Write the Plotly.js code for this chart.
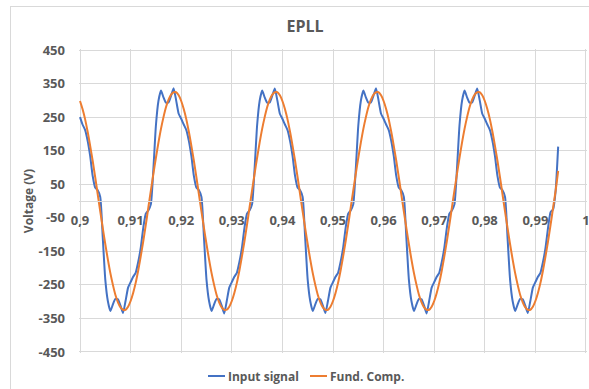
<!DOCTYPE html>
<html>
<head>
<meta charset="utf-8">
<script src="https://cdn.plot.ly/plotly-3.0.1.min.js"></script>
<style>
  html, body { margin: 0; padding: 0; background: #ffffff; width: 589px; height: 389px; overflow: hidden; }
  #frame { position: absolute; left: 10px; top: 6px; width: 590px; height: 390px;
           border: 1px solid #d9d9d9; box-sizing: border-box; background: #ffffff; }
  #chart { width: 588px; height: 388px; }
</style>
</head>
<body>
<div id="frame"><div id="chart"></div></div>
<script>
// Sampling of both signals: first sample time and step (seconds)
const T_START = 0.9;
const T_STEP = 0.0005;

// Measured input voltage (V), one sample every 0.5 ms
const INPUT_SIGNAL = [
  250, 228, 212, 180, 135, 75, 40, 32, 12, -110,
  -235, -298, -328, -308, -292, -293, -312, -334, -298, -258,
  -242, -226, -214, -182, -140, -80, -38, -28, -10, 95,
  225, 298, 329, 309, 293, 294, 314, 336, 300, 260,

  245, 228, 212, 180, 135, 75, 40, 32, 12, -110,
  -235, -298, -328, -308, -292, -293, -312, -335, -298, -258,
  -242, -226, -214, -182, -140, -80, -38, -28, -10, 95,
  225, 298, 329, 309, 293, 294, 314, 335, 300, 260,

  245, 228, 212, 180, 135, 75, 40, 32, 12, -110,
  -235, -298, -328, -308, -292, -293, -312, -334, -298, -258,
  -242, -226, -214, -182, -140, -80, -38, -28, -10, 95,
  225, 298, 329, 309, 293, 294, 314, 336, 300, 260,

  245, 228, 212, 180, 135, 75, 40, 32, 12, -110,
  -235, -298, -328, -308, -292, -293, -312, -335, -298, -258,
  -242, -226, -214, -182, -140, -80, -38, -28, -10, 95,
  225, 298, 329, 309, 293, 294, 314, 335, 300, 260,

  245, 228, 212, 180, 135, 75, 40, 32, 12, -110,
  -235, -298, -328, -308, -292, -293, -312, -334, -298, -258,
  -242, -226, -214, -182, -140, -80, -33, -25, 30, 162
];

// Fundamental component estimated by the EPLL (V)
const FUND_COMP = [
  298, 274, 244, 207, 165, 120, 71, 20, -31, -81,
  -129, -174, -215, -250, -280, -302, -317, -324, -324, -315,
  -298, -274, -244, -207, -165, -120, -71, -20, 31, 81,
  129, 174, 215, 250, 280, 302, 317, 324, 324, 315,

  298, 274, 244, 207, 165, 120, 71, 20, -31, -81,
  -129, -174, -215, -250, -280, -302, -317, -324, -324, -315,
  -298, -274, -244, -207, -165, -120, -71, -20, 31, 81,
  129, 174, 215, 250, 280, 302, 317, 324, 324, 315,

  298, 274, 244, 207, 165, 120, 71, 20, -31, -81,
  -129, -174, -215, -250, -280, -302, -317, -324, -324, -315,
  -298, -274, -244, -207, -165, -120, -71, -20, 31, 81,
  129, 174, 215, 250, 280, 302, 317, 324, 324, 315,

  298, 274, 244, 207, 165, 120, 71, 20, -31, -81,
  -129, -174, -215, -250, -280, -302, -317, -324, -324, -315,
  -298, -274, -244, -207, -165, -120, -71, -20, 31, 81,
  129, 174, 215, 250, 280, 302, 317, 324, 324, 315,

  298, 274, 244, 207, 165, 120, 71, 20, -31, -81,
  -129, -174, -215, -250, -280, -302, -317, -324, -324, -315,
  -298, -274, -244, -207, -165, -120, -71, -20, 31, 90
];

// Axis ticks
const X_TICKS = [0.9, 0.91, 0.92, 0.93, 0.94, 0.95, 0.96, 0.97, 0.98, 0.99, 1.0];
const X_LABELS = ['0,9', '0,91', '0,92', '0,93', '0,94', '0,95', '0,96', '0,97', '0,98', '0,99', '1'];
const Y_TICKS = [450, 350, 250, 150, 50, -50, -150, -250, -350, -450];
const Y_LABELS = ['450', '350', '250', '150', '50', '-50', '-150', '-250', '-350', '-450'];
const Y_GRID = [450, 350, 250, 150, 50, -150, -250, -350, -450];

const SERIES_NAMES = ['Input signal', 'Fund. Comp.'];
const SERIES_COLORS = ['#4472C4', '#ED7D31'];

const time = INPUT_SIGNAL.map((_, i) => +(T_START + i * T_STEP).toFixed(4));

const FONT = 'Open Sans, Lato, sans-serif';
const TEXT_COLOR = '#595959';
const GRID_COLOR = '#d9d9d9';

const traces = [
  // invisible point on the overlay axis that carries the horizontal grid
  { x: [0.95], y: [0], yaxis: 'y2', mode: 'markers', marker: { opacity: 0 },
    showlegend: false, hoverinfo: 'skip' },
  {
    x: time, y: INPUT_SIGNAL, name: SERIES_NAMES[0], type: 'scatter', mode: 'lines',
    line: { color: SERIES_COLORS[0], width: 2, shape: 'spline', smoothing: 0.5 }
  },
  {
    x: time, y: FUND_COMP, name: SERIES_NAMES[1], type: 'scatter', mode: 'lines',
    line: { color: SERIES_COLORS[1], width: 2, shape: 'spline', smoothing: 0.8 }
  }
];

const tickFont = { family: FONT, size: 13, color: TEXT_COLOR, weight: 'bold' };
const legendFont = { family: FONT, size: 12, color: TEXT_COLOR, weight: 'bold' };

// Legend drawn below the plot: short key line followed by the series name
const LEGEND_Y = -0.0757;
const legendKeys = [
  { x0: 0.2539, x1: 0.2874, tx: 0.2894 },
  { x0: 0.4547, x1: 0.4882, tx: 0.4902 }
];

// Ranges are padded slightly so the outer grid lines stay inside the plot area
const X_RANGE = [0.8998, 1.0002];
const Y_RANGE = [-453, 453];

const layout = {
  width: 588, height: 388,
  margin: { l: 68, r: 12, t: 42, b: 42 },
  paper_bgcolor: '#ffffff', plot_bgcolor: '#ffffff',
  showlegend: false,
  title: {
    text: 'EPLL',
    font: { family: FONT, size: 16, color: TEXT_COLOR, weight: 'bold' },
    xref: 'container', x: 0.5, xanchor: 'center',
    yref: 'container', y: 1 - 19 / 388, yanchor: 'middle'
  },
  xaxis: {
    range: X_RANGE,
    tickvals: X_TICKS, ticktext: X_LABELS,
    tickfont: tickFont,
    ticks: '', ticklabelstandoff: 7,
    ticklabeloverflow: 'allow',
    showgrid: true, gridcolor: GRID_COLOR, gridwidth: 1,
    zeroline: false,
    showline: true, linecolor: GRID_COLOR, linewidth: 1,
    anchor: 'free', position: 0.5
  },
  yaxis: {
    range: Y_RANGE,
    tickvals: Y_TICKS, ticktext: Y_LABELS,
    tickfont: tickFont,
    ticks: '', ticklabelstandoff: 13,
    showgrid: false, zeroline: false, showline: false,
    title: {
      text: 'Voltage (V)',
      font: { family: FONT, size: 12, color: TEXT_COLOR, weight: 'bold' },
      standoff: 2
    }
  },
  yaxis2: {
    overlaying: 'y', side: 'left',
    range: Y_RANGE,
    tickvals: Y_GRID,
    showticklabels: false, ticks: '',
    showgrid: true, gridcolor: GRID_COLOR, gridwidth: 1,
    zeroline: false, showline: false
  },
  shapes: legendKeys.map((k, i) => ({
    type: 'line', xref: 'paper', yref: 'paper',
    x0: k.x0, x1: k.x1, y0: LEGEND_Y, y1: LEGEND_Y,
    line: { color: SERIES_COLORS[i], width: 2 }
  })),
  annotations: legendKeys.map((k, i) => ({
    xref: 'paper', yref: 'paper', x: k.tx, y: LEGEND_Y,
    xanchor: 'left', yanchor: 'middle', showarrow: false,
    text: SERIES_NAMES[i], font: legendFont
  }))
};

Plotly.newPlot('chart', traces, layout, { staticPlot: true, displayModeBar: false });
</script>
</body>
</html>
